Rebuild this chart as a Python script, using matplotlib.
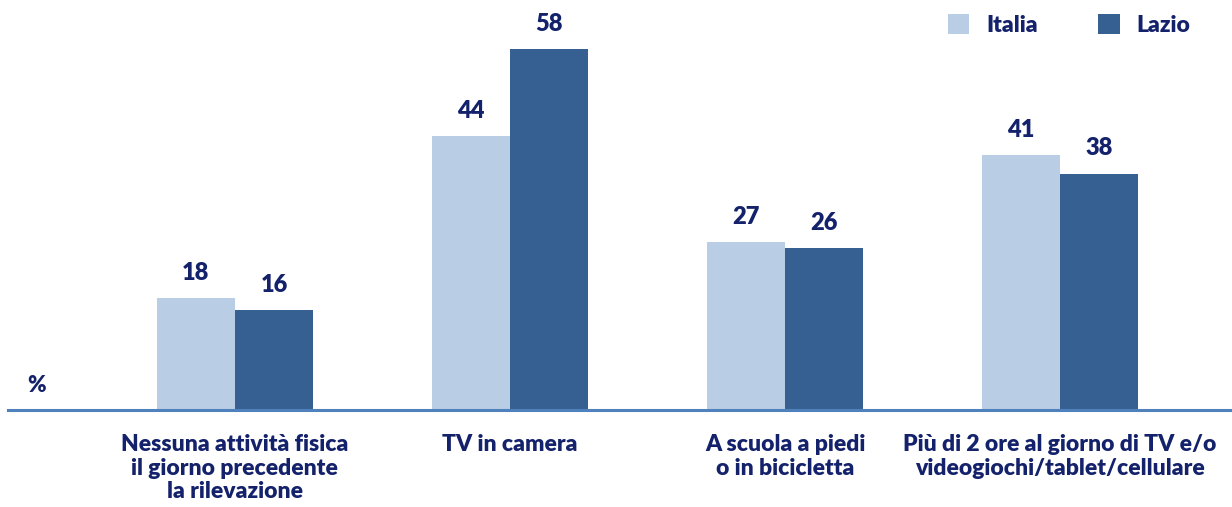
import matplotlib.pyplot as plt
import numpy as np

categories = ['Nessuna attività fisica\nil giorno precedente\nla rilevazione',
              'TV in camera',
              'A scuola a piedi\no in bicicletta',
              'Più di 2 ore al giorno di TV e/o\nvideogiochi/tablet/cellulare']
italia = [18, 44, 27, 41]
lazio = [16, 58, 26, 38]
series_names = ['Italia', 'Lazio']

c_it = '#b9cde5'
c_la = '#376092'
c_txt = '#14216b'

plt.rcParams['font.family'] = ['Lato', 'DejaVu Sans']
plt.rcParams['font.weight'] = 'heavy'

fig = plt.figure(figsize=(12.32, 5.07), dpi=100)
ax = fig.add_axes([8/1232, 97/507, 1 - 8/1232, 410/507])

x = np.arange(len(categories))
w = 0.284
b1 = ax.bar(x - w/2, italia, w, color=c_it, label=series_names[0])
b2 = ax.bar(x + w/2, lazio, w, color=c_la, label=series_names[1])

for bars in (b1, b2):
	for b in bars:
		ax.text(b.get_x() + b.get_width()/2, b.get_height() + 2.3, f'{int(b.get_height())}',
			ha='center', va='bottom', fontsize=17, fontweight='heavy', color=c_txt)

ax.set_xlim(-0.825, 3.625)
ax.set_ylim(0, 65.9)
for s in ['top', 'right', 'left']:
	ax.spines[s].set_visible(False)
ax.spines['bottom'].set_color('#4f81bd')
ax.spines['bottom'].set_linewidth(2.2)
ax.set_yticks([])
ax.set_xticks(x)
ax.set_xticklabels(categories, fontsize=16.5, fontweight='heavy', color=c_txt, linespacing=1.17)
ax.tick_params(axis='x', length=0, pad=17)

ax.text(37/1232, (507 - 386)/507, '%', transform=fig.transFigure, ha='center', va='center',
	fontsize=16, fontweight='heavy', color=c_txt)

leg = ax.legend(loc='upper right', bbox_to_anchor=(0.983, 1.015), ncol=2, frameon=False,
	handlelength=0.95, handleheight=0.95, columnspacing=2.6, handletextpad=0.75,
	prop={'weight': 'heavy', 'size': 16.5})
for t in leg.get_texts():
	t.set_color(c_txt)

fig.savefig('out.png', dpi=100)
